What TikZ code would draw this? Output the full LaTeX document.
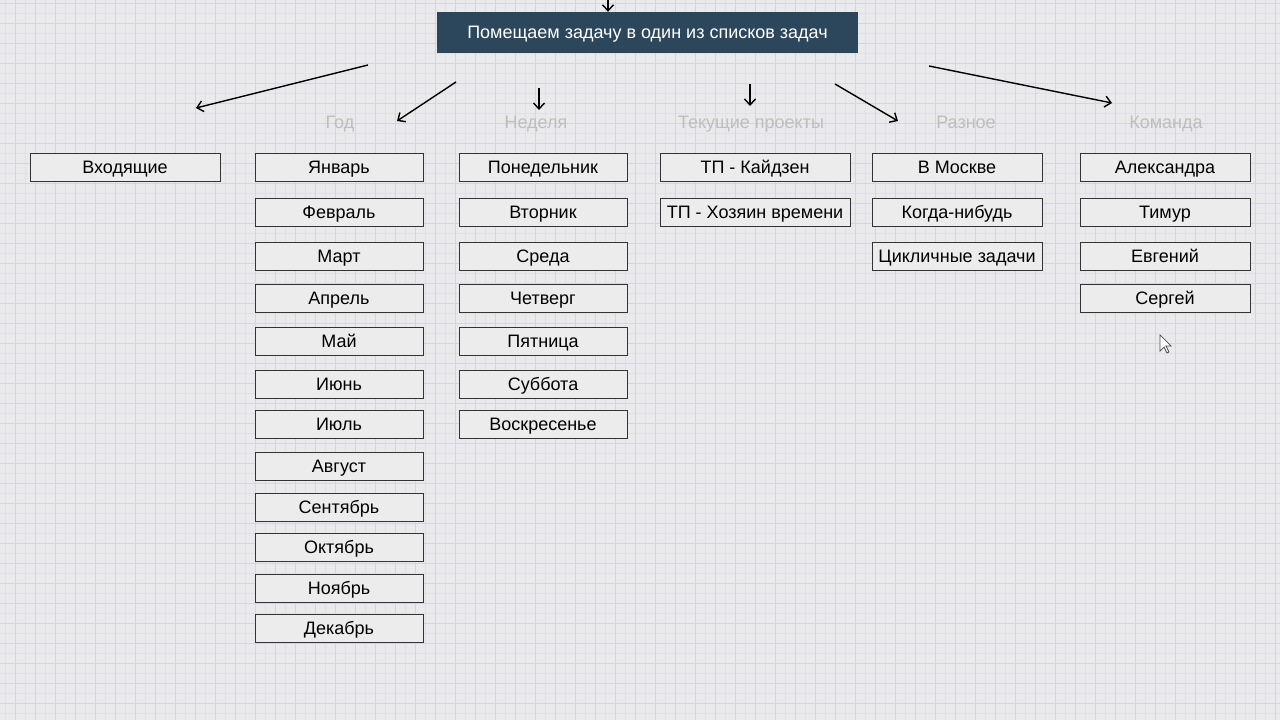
\documentclass[tikz,border=0pt]{standalone}
\usepackage{fontspec}
\setmainfont{Liberation Sans}
\usetikzlibrary{arrows.meta,shadows}

\definecolor{paper}{RGB}{234,234,236}
\definecolor{gridminor}{RGB}{224,224,233}
\definecolor{gridmajor}{RGB}{212,212,227}
\definecolor{headblue}{RGB}{44,71,92}
\definecolor{boxfill}{RGB}{236,236,236}
\definecolor{caption}{RGB}{190,190,190}

\tikzset{
    listbox/.style={draw=black!80, fill=boxfill, line width=1pt, minimum height=28, inner sep=0pt,
        font=\fontsize{18}{21}\selectfont, text height=14.5pt, text depth=1.7pt,
        drop shadow={shadow xshift=0.8pt, shadow yshift=-1.2pt, fill=black, opacity=0.35}},
    colcap/.style={text=caption, font=\fontsize{18}{21}\selectfont, text height=14.5pt, text depth=1.7pt},
    pointer/.style={black, line width=1.4pt, -{Straight Barb[length=6pt,width=11pt]}}
}

\begin{document}
\begin{tikzpicture}[x=1pt,y=-1pt]
        \useasboundingbox (0,0) rectangle (1280,720);
        \fill[paper] (0,0) rectangle (1280,720);
        \foreach \gx in {5,15,...,1275} \draw[gridminor, line width=0.6pt] (\gx,0) -- (\gx,720);
        \foreach \gy in {3,13,...,713} \draw[gridminor, line width=0.6pt] (0,\gy) -- (1280,\gy);
        \foreach \gx in {15,35,...,1275} \draw[gridmajor, line width=0.8pt] (\gx,0) -- (\gx,720);
        \foreach \gy in {3,23,...,703} \draw[gridmajor, line width=0.8pt] (0,\gy) -- (1280,\gy);

        \node[fill=headblue, text=white, minimum width=421, minimum height=41, inner sep=0pt,
            font=\fontsize{18}{21}\selectfont, text height=14.5pt, text depth=1.7pt] (head) at (647.5,32.5) {Помещаем задачу в один из списков задач};

        \node[colcap] (capyear) at (340,122) {Год};
        \node[colcap] (capweek) at (536,122) {Неделя};
        \node[colcap] (capproj) at (751,122) {Текущие проекты};
        \node[colcap] (capmisc) at (966,122) {Разное};
        \node[colcap] (capteam) at (1166,122) {Команда};

        \node[listbox, minimum width=190] (inbox) at (125,167) {Входящие};

        \node[listbox, minimum width=168] (jan) at (339,167) {Январь};
        \node[listbox, minimum width=168] (feb) at (339,212) {Февраль};
        \node[listbox, minimum width=168] (mar) at (339,256) {Март};
        \node[listbox, minimum width=168] (apr) at (339,298) {Апрель};
        \node[listbox, minimum width=168] (may) at (339,341) {Май};
        \node[listbox, minimum width=168] (jun) at (339,384) {Июнь};
        \node[listbox, minimum width=168] (jul) at (339,424) {Июль};
        \node[listbox, minimum width=168] (aug) at (339,466) {Август};
        \node[listbox, minimum width=168] (sep) at (339,507) {Сентябрь};
        \node[listbox, minimum width=168] (oct) at (339,547) {Октябрь};
        \node[listbox, minimum width=168] (nov) at (339,588) {Ноябрь};
        \node[listbox, minimum width=168] (dec) at (339,628) {Декабрь};

        \node[listbox, minimum width=168] (mon) at (543,167) {Понедельник};
        \node[listbox, minimum width=168] (tue) at (543,212) {Вторник};
        \node[listbox, minimum width=168] (wed) at (543,256) {Среда};
        \node[listbox, minimum width=168] (thu) at (543,298) {Четверг};
        \node[listbox, minimum width=168] (fri) at (543,341) {Пятница};
        \node[listbox, minimum width=168] (sat) at (543,384) {Суббота};
        \node[listbox, minimum width=168] (sun) at (543,424) {Воскресенье};

        \node[listbox, minimum width=190] (kaizen) at (755,167) {ТП - Кайдзен};
        \node[listbox, minimum width=190] (owner) at (755,212) {ТП - Хозяин времени};

        \node[listbox, minimum width=170] (moscow) at (957,167) {В Москве};
        \node[listbox, minimum width=170] (someday) at (957,212) {Когда-нибудь};
        \node[listbox, minimum width=170] (cyclic) at (957,256) {Цикличные задачи};

        \node[listbox, minimum width=170] (alex) at (1165,167) {Александра};
        \node[listbox, minimum width=170] (timur) at (1165,212) {Тимур};
        \node[listbox, minimum width=170] (evg) at (1165,256) {Евгений};
        \node[listbox, minimum width=170] (serg) at (1165,298) {Сергей};

        \coordinate (topin) at (608,-2);
        \coordinate (inboxs) at (368,65);
        \coordinate (inboxe) at (196,108);
        \coordinate (years) at (456,82);
        \coordinate (yeare) at (397,121);
        \coordinate (weeks) at (539,88);
        \coordinate (weeke) at (539,110);
        \coordinate (projs) at (750,84);
        \coordinate (proje) at (750,106);
        \coordinate (miscs) at (835,84);
        \coordinate (misce) at (898,121);
        \coordinate (teams) at (929,66);
        \coordinate (teame) at (1112,103);

        \draw[pointer] (topin) -- (head.north -| topin);
        \draw[pointer] (inboxs) -- (inboxe);
        \draw[pointer] (years) -- (yeare);
        \draw[pointer] (weeks) -- (weeke);
        \draw[pointer] (projs) -- (proje);
        \draw[pointer] (miscs) -- (misce);
        \draw[pointer] (teams) -- (teame);

        \filldraw[fill=white, draw=black!70, line width=0.7pt] (1160,335) -- (1160,351) -- (1164,347)
            -- (1167,353) -- (1169,352) -- (1166,346) -- (1171,346) -- cycle;
\end{tikzpicture}
\end{document}
